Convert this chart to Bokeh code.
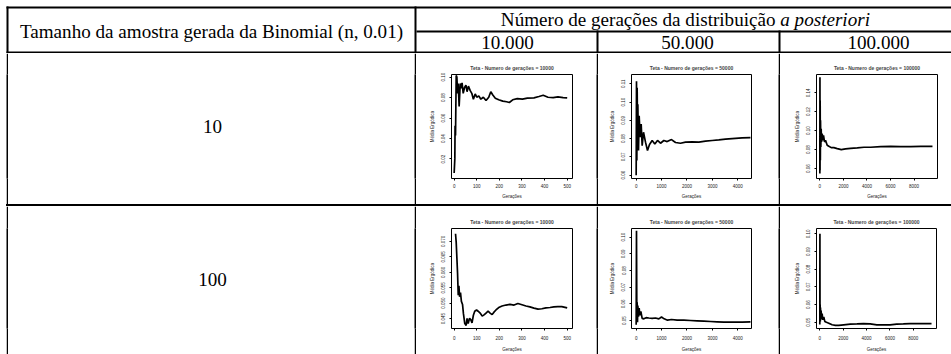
from bokeh.plotting import figure
from bokeh.layouts import row, column
from bokeh.models import Range1d, FixedTicker, PrintfTickFormatter, Spacer
from bokeh.core.properties import value
from bokeh.embed import file_html
from bokeh.resources import INLINE

# ---------------- texts ----------------
header_left = "Tamanho da amostra gerada da Binomial (n, 0.01)"
header_top = "Número de gerações da distribuição"
header_top_italic = "a posteriori"
col_labels = ["10.000", "50.000", "100.000"]
row_labels = ["10", "100"]
plot_titles = ["Teta - Numero de gerações = 10000",
               "Teta - Numero de gerações = 50000",
               "Teta - Numero de gerações = 100000"]
x_title = "Gerações"
y_title = "Média Ergódica"

# ---------------- data ----------------
# n = 10, 10.000 generations
a_x = [0, 3, 4, 6, 9, 12, 15, 18, 22, 27, 31, 35, 40, 46, 52, 57, 63, 71, 78, 85,
       93, 100, 109, 118, 129, 141, 153, 162, 171, 182, 197, 215, 232, 244, 259,
       279, 302, 324, 353, 375, 394, 415, 438, 459, 482, 500]
a_y = [0.0064, 0.0206, 0.0524, 0.0429, 0.1016, 0.1000, 0.0841, 0.0937, 0.0714, 0.0937,
       0.0889, 0.0943, 0.0841, 0.0898, 0.0921, 0.0857, 0.0911, 0.0867, 0.0841, 0.0784,
       0.0835, 0.0803, 0.0816, 0.0784, 0.0803, 0.0771, 0.0803, 0.0857, 0.0825, 0.0794,
       0.0778, 0.0765, 0.0759, 0.0752, 0.0778, 0.0790, 0.0784, 0.0794, 0.0797, 0.0810,
       0.0822, 0.0803, 0.0800, 0.0806, 0.0800, 0.0797]
# n = 10, 50.000 generations
b_x = [0, 13, 26, 39, 52, 66, 92, 118, 157, 197, 236, 289, 367, 446, 525, 630, 734,
       839, 957, 1089, 1220, 1390, 1548, 1744, 1941, 2203, 2466, 2728, 2990, 3252,
       3515, 3777, 4170, 4498]
b_y = [0.0600, 0.1114, 0.0681, 0.1078, 0.0862, 0.0988, 0.0735, 0.0925, 0.0808, 0.0880,
       0.0762, 0.0835, 0.0781, 0.0735, 0.0768, 0.0790, 0.0771, 0.0790, 0.0775, 0.0790,
       0.0784, 0.0795, 0.0779, 0.0775, 0.0781, 0.0782, 0.0781, 0.0786, 0.0790, 0.0793,
       0.0797, 0.0800, 0.0804, 0.0806]
# n = 10, 100.000 generations
c_x = [0, 9, 17, 28, 43, 57, 85, 113, 142, 199, 255, 312, 397, 482, 624, 766, 965,
       1191, 1475, 1816, 2184, 2610, 3177, 3745, 4312, 5163, 6014, 6865, 7716, 8567, 9560]
c_y = [0.0547, 0.1565, 0.0582, 0.1319, 0.0688, 0.1109, 0.0828, 0.1021, 0.0881, 0.0968,
       0.0898, 0.0951, 0.0881, 0.0898, 0.0846, 0.0835, 0.0821, 0.0821, 0.0811, 0.0800,
       0.0807, 0.0814, 0.0818, 0.0825, 0.0825, 0.0832, 0.0835, 0.0832, 0.0832, 0.0835, 0.0835]
# n = 100, 10.000 generations
d_x = [6, 9, 12, 15, 18, 21, 24, 28, 32, 37, 41, 47, 53, 57, 62, 68, 74, 79, 85, 91,
       99, 106, 115, 124, 132, 141, 150, 159, 168, 176, 185, 197, 212, 229, 247, 265,
       282, 300, 318, 335, 353, 371, 388, 406, 424, 441, 459, 476, 500]
d_y = [0.0725, 0.0697, 0.0647, 0.0597, 0.0526, 0.0556, 0.0521, 0.0534, 0.0506, 0.0496,
       0.0466, 0.0434, 0.0428, 0.0451, 0.0434, 0.0451, 0.0446, 0.0436, 0.0461, 0.0474,
       0.0478, 0.0474, 0.0468, 0.0458, 0.0462, 0.0468, 0.0474, 0.0468, 0.0463, 0.0471,
       0.0478, 0.0486, 0.0491, 0.0494, 0.0496, 0.0494, 0.0499, 0.0495, 0.0491, 0.0488,
       0.0484, 0.0481, 0.0482, 0.0485, 0.0486, 0.0488, 0.0489, 0.0489, 0.0485]
# n = 100, 50.000 generations
e_x = [0, 13, 26, 39, 52, 66, 92, 118, 144, 184, 236, 302, 393, 498, 630, 761, 892,
       997, 1102, 1233, 1390, 1613, 1875, 2138, 2400, 2662, 2925, 3187, 3449, 3777,
       4170, 4498]
e_y = [0.0475, 0.1038, 0.0532, 0.0609, 0.0490, 0.0590, 0.0523, 0.0574, 0.0532, 0.0555,
       0.0513, 0.0510, 0.0517, 0.0515, 0.0513, 0.0515, 0.0510, 0.0521, 0.0510, 0.0502,
       0.0506, 0.0502, 0.0502, 0.0500, 0.0498, 0.0496, 0.0494, 0.0492, 0.0490, 0.0490,
       0.0490, 0.0492]
# n = 100, 100.000 generations
f_x = [0, 9, 17, 28, 43, 57, 85, 113, 142, 199, 255, 340, 426, 567, 766, 1050, 1333,
       1617, 2043, 2610, 3177, 3745, 4312, 4879, 5447, 6014, 6582, 7149, 7716, 8426, 9560]
f_y = [0.0488, 0.1000, 0.0531, 0.0601, 0.0505, 0.0584, 0.0523, 0.0566, 0.0517, 0.0549,
       0.0514, 0.0531, 0.0505, 0.0500, 0.0495, 0.0486, 0.0483, 0.0483, 0.0486, 0.0490,
       0.0491, 0.0493, 0.0491, 0.0486, 0.0486, 0.0486, 0.0490, 0.0491, 0.0493, 0.0493, 0.0493]

# axis ticks
x_ticks_10k = [0, 100, 200, 300, 400, 500]
x_ticks_50k = [0, 1000, 2000, 3000, 4000]
x_ticks_100k = [0, 2000, 4000, 6000, 8000]
a_yticks = [0.02, 0.04, 0.06, 0.08, 0.10]
b_yticks = [0.06, 0.07, 0.08, 0.09, 0.10, 0.11]
c_yticks = [0.06, 0.08, 0.10, 0.12, 0.14]
d_yticks = [0.045, 0.050, 0.055, 0.060, 0.065, 0.070]
e_yticks = [0.05, 0.06, 0.07, 0.08, 0.09, 0.10]
f_yticks = [0.05, 0.06, 0.07, 0.08, 0.09, 0.10]

# ---------------- layout constants (page has no margin) ----------------
W = 951
LW = 2
EDGE = 6                       # white space left of / above the table border
COL_W = [406, 180, 180, 171]   # label column (between left border and first divider)
HEADER_H = 53                  # includes top border and header bottom line
ROW_H = [151, 148]
SERIF = "Liberation Serif"
SANS = "Liberation Sans"
HFS = "19.1px"


def blank(w, h, xr, yr, fill="white"):
    p = figure(width=w, height=h, x_range=xr, y_range=yr, output_backend="svg",
               toolbar_location=None, min_border=0, x_axis_type=None, y_axis_type=None,
               background_fill_color=fill, border_fill_color=fill, outline_line_color=None)
    p.grid.visible = False
    return p


def bar(w, h):
    return blank(w, h, Range1d(0, 1), Range1d(0, 1), fill="black")


def hline(w):
    return Spacer(width=w, height=LW, styles={"background-color": "black"})


# ---------------- header ----------------
hdr = blank(W, HEADER_H, Range1d(0, W), Range1d(HEADER_H, 0))
x1 = EDGE + LW + COL_W[0]
x2 = x1 + LW + COL_W[1]
x3 = x2 + LW + COL_W[2]
top_y = EDGE
sub_y = 30
bot_y = HEADER_H - LW
hdr.quad(left=[EDGE, EDGE, x1, x1 + LW, x2, x3, EDGE],
         right=[W, EDGE + LW, x1 + LW, W, x2 + LW, x3 + LW, W],
         top=[top_y, top_y, top_y, sub_y, sub_y, sub_y, bot_y],
         bottom=[top_y + LW, HEADER_H, HEADER_H, sub_y + LW, HEADER_H, HEADER_H, HEADER_H],
         fill_color="black", line_color=None)
hdr.text(x=[211], y=[30.5], text=[header_left], text_font=value(SERIF),
         text_font_size=HFS, text_align="center", text_baseline="middle", text_color="black")
split_x = 775
hdr.text(x=[split_x], y=[19], text=[header_top], text_font=value(SERIF),
         text_font_size=HFS, text_align="right", text_baseline="middle", text_color="black")
hdr.text(x=[split_x + 4.8], y=[19], text=[header_top_italic], text_font=value(SERIF),
         text_font_size=HFS, text_font_style="italic", text_align="left",
         text_baseline="middle", text_color="black")
hdr.text(x=[507, 687, 878], y=[41.5, 41.5, 41.5], text=col_labels, text_font=value(SERIF),
         text_font_size=HFS, text_align="center", text_baseline="middle", text_color="black")


# ---------------- mini plots ----------------
def mini(xs, ys, title, xt, yt, yfmt, xr, yr, cw, ch, left, top, fw, fh, xs1, xs2):
    p = figure(width=cw, height=ch, x_range=Range1d(*xr), y_range=Range1d(*yr),
               output_backend="svg", toolbar_location=None,
               min_border_left=left, min_border_top=top,
               min_border_right=cw - left - fw, min_border_bottom=ch - top - fh,
               background_fill_color="white", border_fill_color="white")
    p.title.text = title
    p.title.text_font = SANS
    p.title.text_font_size = "5px"
    p.title.text_font_style = "bold"
    p.title.align = "center"
    p.title.standoff = 8
    p.grid.visible = False
    p.outline_line_color = "black"
    p.outline_line_width = 1
    p.outline_line_alpha = 1
    p.xaxis.ticker = FixedTicker(ticks=xt)
    p.yaxis.ticker = FixedTicker(ticks=yt)
    p.xaxis.formatter = PrintfTickFormatter(format="%d")
    p.yaxis.formatter = PrintfTickFormatter(format=yfmt)
    for ax in p.axis:
        ax.axis_line_color = None
        ax.major_tick_line_color = "black"
        ax.major_tick_out = 2
        ax.major_tick_in = 0
        ax.minor_tick_line_color = None
        ax.major_label_text_font = SANS
        ax.major_label_text_font_size = "4.5px"
        ax.major_label_text_color = "#222222"
        ax.axis_label_text_font = SANS
        ax.axis_label_text_font_size = "4.5px"
        ax.axis_label_text_font_style = "normal"
        ax.axis_label_text_color = "#222222"
    p.xaxis.major_label_standoff = xs1
    p.xaxis.axis_label_standoff = xs2
    p.yaxis.major_label_standoff = 4
    p.yaxis.axis_label_standoff = 4
    p.yaxis.major_label_orientation = "vertical"
    p.xaxis.axis_label = x_title
    p.yaxis.axis_label = y_title
    p.line(xs, ys, line_color="black", line_width=1.7)
    return p


r10k = (-11.8, 523.5)
r50k = (-183.6, 4537.7)
r100k = (-283.7, 9986)

pa = mini(a_x, a_y, plot_titles[0], x_ticks_10k, a_yticks, "%.2f", r10k, (0.00095, 0.1025),
          COL_W[1], ROW_H[0], 35, 21, 121, 107, 3, 3)
pb = mini(b_x, b_y, plot_titles[1], x_ticks_50k, b_yticks, "%.2f", r50k, (0.0582, 0.1151),
          COL_W[2], ROW_H[0], 33, 20, 120, 105, 3, 3)
pc = mini(c_x, c_y, plot_titles[2], x_ticks_100k, c_yticks, "%.2f", r100k, (0.0495, 0.1593),
          COL_W[3], ROW_H[0], 36, 21, 121, 104, 3, 3)
pd = mini(d_x, d_y, plot_titles[0], x_ticks_10k, d_yticks, "%.3f", r10k, (0.0418, 0.0742),
          COL_W[1], ROW_H[1], 35, 17, 121, 108, 5, 4)
pe = mini(e_x, e_y, plot_titles[1], x_ticks_50k, e_yticks, "%.2f", r50k, (0.0452, 0.1052),
          COL_W[2], ROW_H[1], 33, 22, 120, 104, 5, 4)
pf = mini(f_x, f_y, plot_titles[2], x_ticks_100k, f_yticks, "%.2f", r100k, (0.0465, 0.103),
          COL_W[3], ROW_H[1], 36, 17, 120, 108, 5, 4)


def label_cell(txt, h, cy):
    p = blank(COL_W[0], h, Range1d(0, COL_W[0]), Range1d(h, 0))
    p.text(x=[COL_W[0] / 2 + 1], y=[cy], text=[txt], text_font=value(SERIF),
           text_font_size=HFS, text_align="center", text_baseline="middle", text_color="black")
    return p


def body_row(txt, h, cy, plots):
    kids = [Spacer(width=EDGE, height=h), bar(LW, h), label_cell(txt, h, cy)]
    for p in plots:
        kids += [bar(LW, h), p]
    return row(*kids)


row1 = body_row(row_labels[0], ROW_H[0], 75.5, [pa, pb, pc])
divider = row(Spacer(width=EDGE, height=LW), hline(W - EDGE))
row2 = body_row(row_labels[1], ROW_H[1], 76, [pd, pe, pf])

layout = column(hdr, row1, divider, row2)

open("out.html", "w").write(file_html(layout, INLINE))
